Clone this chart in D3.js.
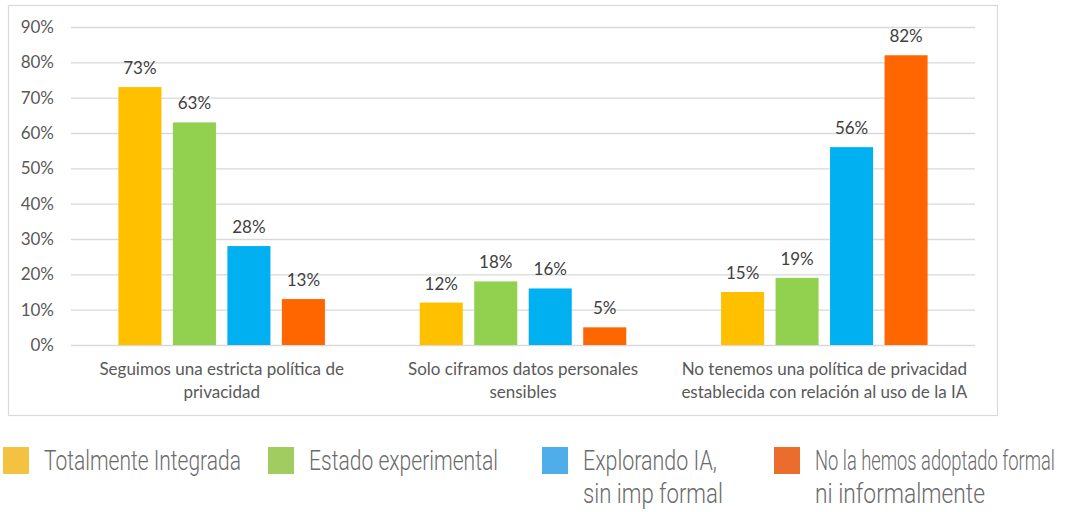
<!DOCTYPE html>
<html>
<head>
<meta charset="utf-8">
<script src="https://cdn.jsdelivr.net/npm/d3@7"></script>
<style>
  html, body { margin: 0; padding: 0; background: #ffffff; }
  svg { display: block; }
</style>
</head>
<body>
<svg id="chart" width="1075" height="512"></svg>
<script>
// Categories (each label split into its display lines)
const categories = [
  "Seguimos una estricta política de privacidad",
  "Solo ciframos datos personales sensibles",
  "No tenemos una política de privacidad establecida con relación al uso de la IA"
];
const categoryLines = [
  ["Seguimos una estricta política de", "privacidad"],
  ["Solo ciframos datos personales", "sensibles"],
  ["No tenemos una política de privacidad", "establecida con relación al uso de la IA"]
];

// Series (adoption stage) and their values per category, in percent
const series = ["Totalmente Integrada", "Estado experimental", "Explorando IA, sin imp formal", "No la hemos adoptado formal ni informalmente"];
const seriesLines = [
  ["Totalmente Integrada"],
  ["Estado experimental"],
  ["Explorando IA,", "sin imp formal"],
  ["No la hemos adoptado formal", "ni informalmente"]
];
const totalmenteIntegrada = [73, 12, 15];
const estadoExperimental = [63, 18, 19];
const explorandoIA = [28, 16, 56];
const noAdoptado = [13, 5, 82];
const seriesValues = [totalmenteIntegrada, estadoExperimental, explorandoIA, noAdoptado];

// Y axis ticks
const yTicks = [0, 10, 20, 30, 40, 50, 60, 70, 80, 90];

// Colours: bars and the separate legend swatches
const barColors = ["#FFC000", "#92D050", "#00B0F0", "#FF6600"];
const legendColors = ["#F5C142", "#A1CC5F", "#4FAEE9", "#EA6D2D"];

const chartFont = "Lato, 'Open Sans', sans-serif";
const svg = d3.select("#chart");

// Chart frame
svg.append("rect")
  .attr("x", 8.5).attr("y", 5.5)
  .attr("width", 989).attr("height", 410)
  .attr("fill", "#ffffff")
  .attr("stroke", "#d9d9d9")
  .attr("stroke-width", 1.2);

const plot = { left: 71, right: 975, top: 27, bottom: 345 };

const x0 = d3.scaleBand()
  .domain(categories)
  .range([plot.left, plot.right])
  .padding(0);

const x1 = d3.scaleBand()
  .domain(series)
  .range([0, x0.bandwidth()])
  .paddingInner(0.21)
  .paddingOuter(0.87);

const y = d3.scaleLinear()
  .domain([0, 90])
  .range([plot.bottom, plot.top]);

// Gridlines and tick labels
const yAxis = d3.axisLeft(y)
  .tickValues(yTicks)
  .tickSize(-(plot.right - plot.left))
  .tickPadding(17)
  .tickFormat(d => d + "%");

const gy = svg.append("g")
  .attr("transform", `translate(${plot.left},0)`)
  .call(yAxis);
gy.select(".domain").remove();
gy.selectAll(".tick line")
  .attr("stroke", "#d9d9d9")
  .attr("stroke-width", 1.4);
gy.selectAll(".tick text")
  .attr("fill", "#595959")
  .style("font-family", chartFont)
  .style("font-size", "17px");

// Bars with their value labels
const groups = svg.append("g")
  .selectAll("g")
  .data(categories)
  .join("g")
  .attr("transform", d => `translate(${x0(d)},0)`);

groups.each(function(cat, ci) {
  const g = d3.select(this);
  const rows = series.map((s, si) => ({ s, si, v: seriesValues[si][ci] }));
  g.selectAll("rect")
    .data(rows)
    .join("rect")
    .attr("x", d => x1(d.s))
    .attr("y", d => y(d.v))
    .attr("width", x1.bandwidth())
    .attr("height", d => y(0) - y(d.v))
    .attr("fill", d => barColors[d.si]);
  g.selectAll("text.value")
    .data(rows)
    .join("text")
    .attr("class", "value")
    .attr("x", d => x1(d.s) + x1.bandwidth() / 2)
    .attr("y", d => y(d.v) - 13)
    .attr("text-anchor", "middle")
    .attr("fill", "#404040")
    .style("font-family", chartFont)
    .style("font-size", "17px")
    .text(d => d.v + "%");
});

// Category labels
const catLabels = svg.append("g")
  .selectAll("text")
  .data(categories)
  .join("text")
  .attr("x", d => x0(d) + x0.bandwidth() / 2)
  .attr("y", 375)
  .attr("text-anchor", "middle")
  .attr("fill", "#595959")
  .style("font-family", chartFont)
  .style("font-size", "17px");
catLabels.each(function(d, i) {
  d3.select(this).selectAll("tspan")
    .data(categoryLines[i])
    .join("tspan")
    .attr("x", x0(d) + x0.bandwidth() / 2)
    .attr("dy", (t, j) => j === 0 ? 0 : 22.5)
    .text(t => t);
});

// Legend beneath the frame; its condensed lettering is made by narrowing each line
const legendX = [3, 268, 542, 774];
const legendWidths = [
  [197],
  [189],
  [134, 140],
  [240, 170]
];
const legend = svg.append("g")
  .selectAll("g")
  .data(series)
  .join("g")
  .attr("transform", (d, i) => `translate(${legendX[i]},0)`);

legend.append("rect")
  .attr("x", 0).attr("y", 447)
  .attr("width", 26).attr("height", 27)
  .attr("fill", (d, i) => legendColors[i]);

legend.each(function(d, i) {
  d3.select(this).selectAll("text")
    .data(seriesLines[i])
    .join("text")
    .attr("x", 0)
    .attr("y", 0)
    .attr("fill", "#6b6b6b")
    .style("font-family", "Roboto, sans-serif")
    .style("font-weight", 300)
    .style("font-size", "27px")
    .text(t => t)
    .each(function(t, j) {
      const natural = this.getComputedTextLength();
      const sx = legendWidths[i][j] / natural;
      d3.select(this).attr("transform", `translate(41,${470 + j * 33}) scale(${sx},1)`);
    });
});
</script>
</body>
</html>
